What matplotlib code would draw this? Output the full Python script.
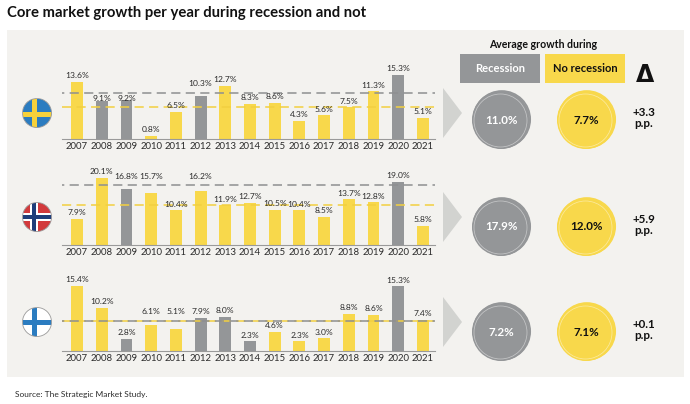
import matplotlib
matplotlib.use("Agg")
import matplotlib.pyplot as plt
from matplotlib.patches import Rectangle, Circle, Polygon

plt.rcParams['font.family'] = ['Lato', 'DejaVu Sans']

# data
years = list(range(2007, 2022))
sweden = [13.6, 9.1, 9.2, 0.8, 6.5, 10.3, 12.7, 8.3, 8.6, 4.3, 5.6, 7.5, 11.3, 15.3, 5.1]
norway = [7.9, 20.1, 16.8, 15.7, 10.4, 16.2, 11.9, 12.7, 10.5, 10.4, 8.5, 13.7, 12.8, 19.0, 5.8]
finland = [15.4, 10.2, 2.8, 6.1, 5.1, 7.9, 8.0, 2.3, 4.6, 2.3, 3.0, 8.8, 8.6, 15.3, 7.4]
sweden_rec = [2008, 2009, 2012, 2020]
norway_rec = [2009, 2020]
finland_rec = [2009, 2012, 2013, 2014, 2020]
avg_rec = [11.0, 17.9, 7.2]
avg_norec = [7.7, 12.0, 7.1]
deltas = ["+3.3\np.p.", "+5.9\np.p.", "+0.1\np.p."]
# labels raised above / tucked under the dashed line so they don't collide
raised = [[2012], [2009, 2010, 2012], [2010, 2011]]
tucked = [[2008, 2009], [], []]

YELLOW = '#f8d84b'
GRAY = '#949698'
BG = '#f3f2ef'
TXT = '#2b2b2b'

W, H = 690, 404
fig = plt.figure(figsize=(W / 100, H / 100), dpi=100)
fig.patch.set_facecolor('white')

# overlay axes in pixel coordinates
bg = fig.add_axes([0, 0, 1, 1], zorder=0)
bg.set_xlim(0, W)
bg.set_ylim(H, 0)
bg.axis('off')
bg.add_patch(Rectangle((7, 30), 677, 347, color=BG, lw=0))

fig.text(7 / W, 1 - 13 / H, "Core market growth per year during recession and not",
         fontsize=10.7, fontweight='bold', color='#111', va='center', ha='left')
fig.text(15 / W, 1 - 394 / H, "Source: The Strategic Market Study.",
         fontsize=6, color=TXT, va='center')

# header on the right
bg.text(543, 44, "Average growth during", fontsize=7.6, fontweight='bold',
        ha='center', va='center', color='#111')
bg.add_patch(Rectangle((460, 54), 80, 29, color=GRAY, lw=0))
bg.add_patch(Rectangle((545, 54), 80, 29, color=YELLOW, lw=0))
bg.text(500, 68.5, "Recession", fontsize=8, fontweight='bold', color='white',
        ha='center', va='center')
bg.text(585, 68.5, "No recession", fontsize=8, fontweight='bold', color='#111',
        ha='center', va='center')
bg.text(645, 75, "\u0394", fontsize=17, fontweight='bold', color='#111',
        ha='center', va='center', family='DejaVu Sans')

panels = [
    (sweden, sweden_rec, 139, 70, 16.4, 113, 120, 'se'),
    (norway, norway_rec, 245, 173, 21.6, 217, 227, 'no'),
    (finland, finland_rec, 351, 281, 16.6, 322, 332, 'fi'),
]


def draw_flag(kind, cx, cy, r=14.5):
    clip = Circle((cx, cy), r, transform=bg.transData)
    parts = []
    if kind == 'se':
        parts.append(Rectangle((cx - r, cy - r), 2 * r, 2 * r, color='#2b7cc0'))
        parts.append(Rectangle((cx - 5.5, cy - r), 5, 2 * r, color='#f6d13a'))
        parts.append(Rectangle((cx - r, cy - 1.5), 2 * r, 5, color='#f6d13a'))
    elif kind == 'no':
        parts.append(Rectangle((cx - r, cy - r), 2 * r, 2 * r, color='#d23a3c'))
        parts.append(Rectangle((cx - 7, cy - r), 8, 2 * r, color='white'))
        parts.append(Rectangle((cx - r, cy - 4), 2 * r, 8, color='white'))
        parts.append(Rectangle((cx - 4.7, cy - r), 3.5, 2 * r, color='#1f3e7a'))
        parts.append(Rectangle((cx - r, cy - 1.75), 2 * r, 3.5, color='#1f3e7a'))
    else:
        parts.append(Rectangle((cx - r, cy - r), 2 * r, 2 * r, color='white'))
        parts.append(Rectangle((cx - 5.5, cy - r), 5, 2 * r, color='#2b7cc0'))
        parts.append(Rectangle((cx - r, cy - 2.5), 2 * r, 5, color='#2b7cc0'))
    for p in parts:
        p.set_linewidth(0)
        bg.add_patch(p)
        p.set_clip_path(clip)
    bg.add_patch(Circle((cx, cy), r, fill=False, ec='#9a9a9a', lw=0.6))


def draw_blob(cx, cy, color, r=29):
    bg.add_patch(Circle((cx, cy), r, color=color, lw=0))
    bg.add_patch(Circle((cx + 0.8, cy - 0.6), r - 0.6, fill=False, ec=color, lw=1.2))
    bg.add_patch(Circle((cx - 0.5, cy + 0.5), r - 2.5, fill=False, ec='white', lw=0.5, alpha=0.5))


x = list(range(len(years)))
for i, (vals, rec, base, top, ymax, fcy, ccy, kind) in enumerate(panels):
    ax = fig.add_axes([62 / W, 1 - base / H, (435 - 62) / W, (base - top) / H], zorder=2)
    ax.patch.set_alpha(0)
    colors = [GRAY if y in rec else YELLOW for y in years]
    ax.bar(x, vals, width=0.48, color=colors, zorder=2)
    ax.set_xlim(-0.61, 14.49)
    ax.set_ylim(0, ymax)
    ax.axhline(avg_norec[i], color='#f2d040', lw=1.1, ls=(0, (6, 3.5)), zorder=3)
    ax.axhline(avg_rec[i], color='#8e8f91', lw=1.1, ls=(4.5, (6, 3.5)), zorder=3)
    for s in ['top', 'right', 'left']:
        ax.spines[s].set_visible(False)
    ax.spines['bottom'].set_color('#9a9a9a')
    ax.spines['bottom'].set_linewidth(0.8)
    ax.set_yticks([])
    ax.set_xticks(x)
    ax.set_xticklabels([str(y) for y in years], fontsize=6.9, color=TXT)
    ax.tick_params(axis='x', length=0, pad=2.5)
    for xi, v, y in zip(x, vals, years):
        yy = avg_rec[i] if y in raised[i] else v
        off = 4 if y in raised[i] else (-1.2 if y in tucked[i] else 2)
        ax.annotate(f"{v:.1f}%", (xi, yy), xytext=(0, off), textcoords='offset points',
                    ha='center', va='bottom', fontsize=6.1, color=TXT)

    draw_flag(kind, 37, fcy)
    bg.add_patch(Polygon([[443, fcy - 25], [462, fcy], [443, fcy + 25]],
                         closed=True, color='#d2d3d0', lw=0))
    draw_blob(501, ccy, GRAY)
    draw_blob(586, ccy, YELLOW)
    bg.text(501, ccy, f"{avg_rec[i]:.1f}%", fontsize=8.4, fontweight='bold',
            color='white', ha='center', va='center')
    bg.text(586, ccy, f"{avg_norec[i]:.1f}%", fontsize=8.4, fontweight='bold',
            color='#111', ha='center', va='center')
    bg.text(644, ccy - 2, deltas[i], fontsize=8.4, fontweight='bold', color='#111',
            ha='center', va='center', linespacing=1.0)

fig.savefig('out.png', dpi=100)
